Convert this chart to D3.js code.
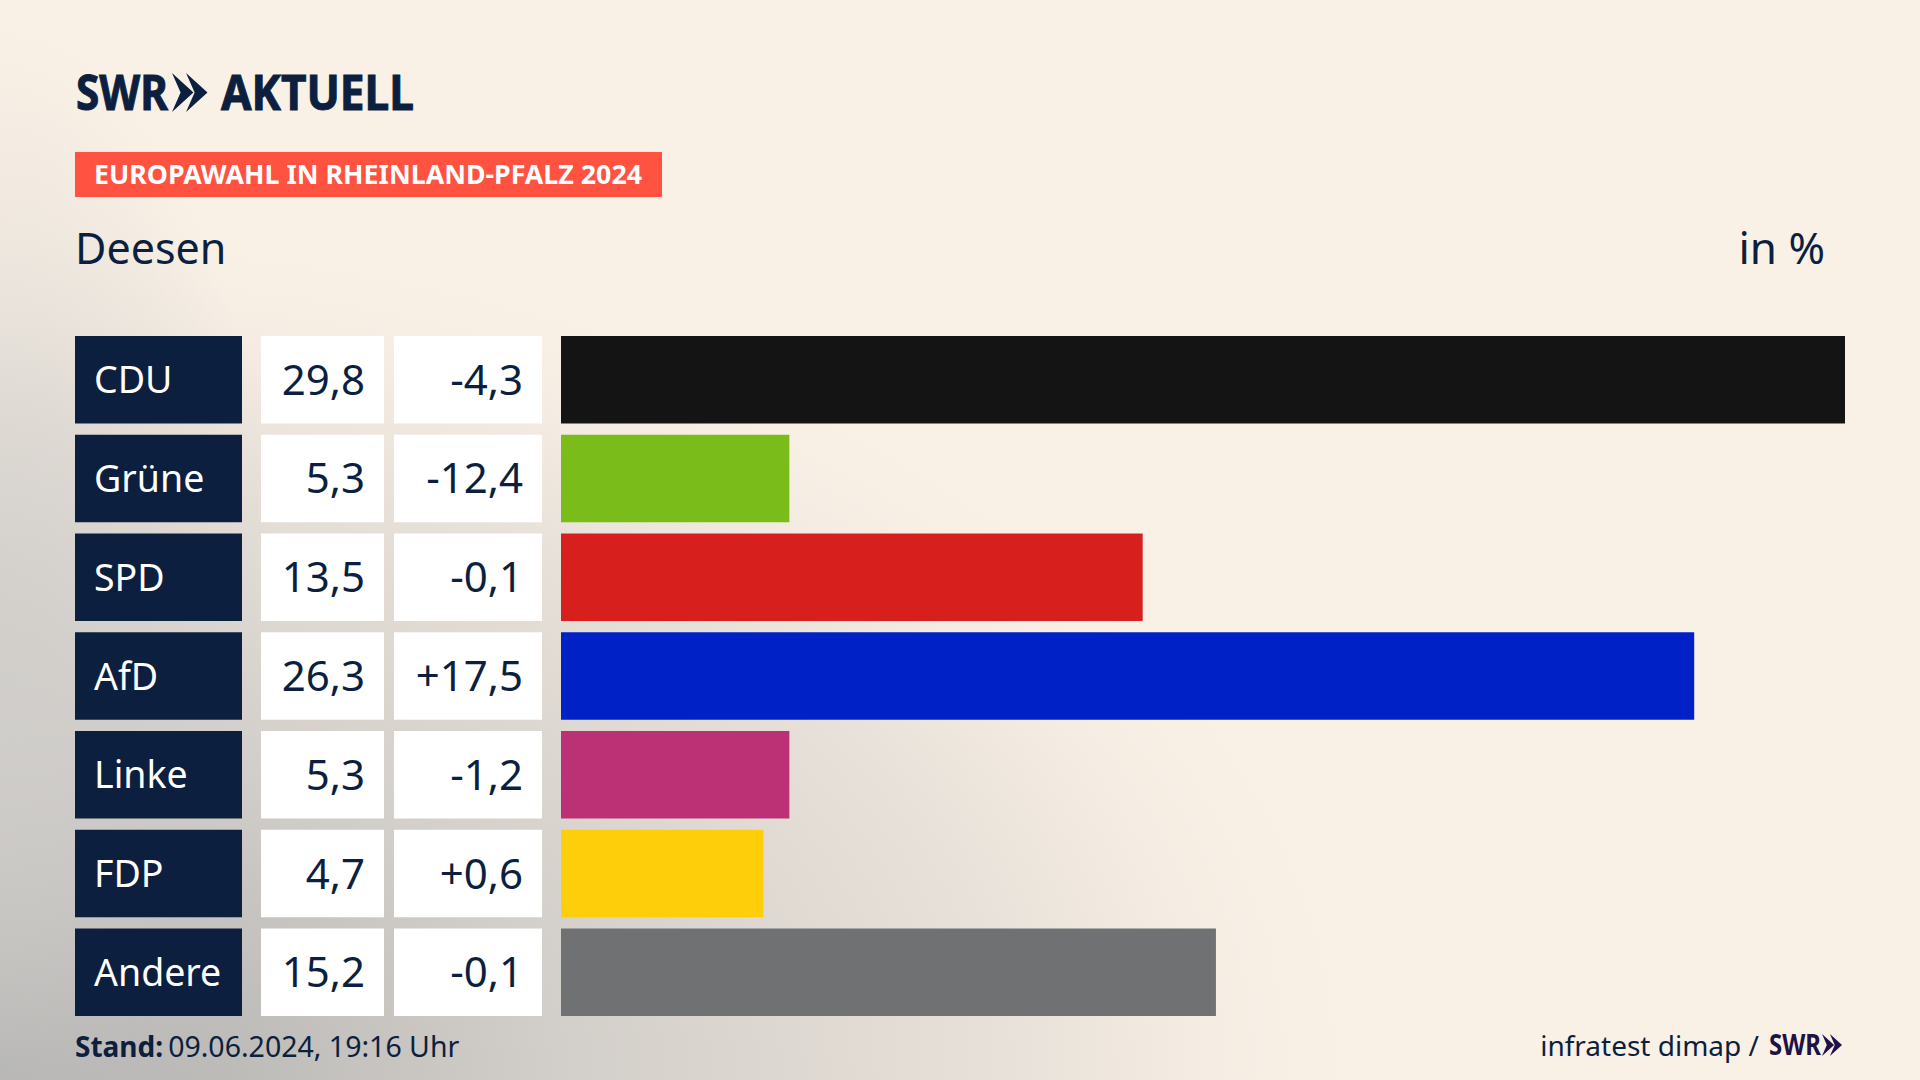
<!DOCTYPE html>
<html lang="de">
<head>
<meta charset="UTF-8">
<title>Europawahl Deesen</title>
<script src="https://cdn.jsdelivr.net/npm/d3@7"></script>
<style>
	html, body { margin: 0; padding: 0; background: #faf1e6; overflow: hidden; }
	svg { display: block; }
	text { font-family: "Noto Sans", sans-serif; fill: #0c1f3f; }
</style>
</head>
<body>
<script>
var parties = ["CDU", "Grüne", "SPD", "AfD", "Linke", "FDP", "Andere"];
var shares = [29.8, 5.3, 13.5, 26.3, 5.3, 4.7, 15.2];
var changes = [-4.3, -12.4, -0.1, 17.5, -1.2, 0.6, -0.1];
var colors = ["#141414", "#7abd1a", "#d7201e", "#0021c6", "#bc3075", "#ffce0a", "#707173"];

var navy = "#0c1f3f";

var svg = d3.select("body").append("svg")
	.attr("width", 1920)
	.attr("height", 1080);

// background: cream, grey haze out of the lower left corner plus a soft glow along the left edge
var defs = svg.append("defs");
var haze = defs.append("radialGradient")
	.attr("id", "haze")
	.attr("gradientUnits", "userSpaceOnUse")
	.attr("cx", 0).attr("cy", 0).attr("r", 850)
	.attr("gradientTransform", "translate(0,1080) scale(1.6,1)");
haze.append("stop").attr("offset", 0).attr("stop-color", "#ababaa");
haze.append("stop").attr("offset", 0.2).attr("stop-color", "#c0bebb");
haze.append("stop").attr("offset", 0.41).attr("stop-color", "#d2cec9");
haze.append("stop").attr("offset", 0.74).attr("stop-color", "#e8e1d9");
haze.append("stop").attr("offset", 0.89).attr("stop-color", "#f5ede3");
haze.append("stop").attr("offset", 1).attr("stop-color", "#faf1e6");

var edge = defs.append("radialGradient")
	.attr("id", "edge")
	.attr("gradientUnits", "userSpaceOnUse")
	.attr("cx", 0).attr("cy", 0).attr("r", 680)
	.attr("gradientTransform", "translate(0,700) scale(0.42,1)");
edge.append("stop").attr("offset", 0).attr("stop-color", "#cfcdca").attr("stop-opacity", 0.8);
edge.append("stop").attr("offset", 1).attr("stop-color", "#cfcdca").attr("stop-opacity", 0);

svg.append("rect").attr("width", 1920).attr("height", 1080).attr("fill", "url(#haze)");
svg.append("rect").attr("width", 1920).attr("height", 1080).attr("fill", "url(#edge)");

// scales
var x = d3.scaleLinear().domain([0, d3.max(shares)]).range([561, 1845]);
var y = d3.scaleBand().domain(parties).range([336, 1016]).paddingInner(0.114);

function comma(v) {
	return v.toFixed(1).replace(".", ",");
}
function signed(v) {
	return (v > 0 ? "+" : "") + comma(v);
}

// logo
function chevrons(g, x0, top, h) {
	var w = h * 0.55;
	[0, h * 0.36].forEach(function(dx) {
		g.append("path")
			.attr("d", d3.line()([
				[x0 + dx, top], [x0 + dx + w, top + h / 2], [x0 + dx, top + h],
				[x0 + dx + w * 0.4, top + h / 2]
			]) + "Z")
			.attr("fill", g.attr("data-fill"));
	});
}

var logo = svg.append("g").attr("data-fill", navy);
logo.append("text").attr("x", 76).attr("y", 110)
	.attr("font-size", 49).attr("font-weight", 700)
	.attr("textLength", 92).attr("lengthAdjust", "spacingAndGlyphs")
	.style("stroke", navy).style("stroke-width", 1)
	.text("SWR");
chevrons(logo, 172, 73, 39);
logo.append("text").attr("x", 221).attr("y", 110)
	.attr("font-size", 49).attr("font-weight", 700)
	.attr("textLength", 193).attr("lengthAdjust", "spacingAndGlyphs")
	.style("stroke", navy).style("stroke-width", 1)
	.text("AKTUELL");

// red chip with the title
svg.append("rect").attr("x", 75).attr("y", 152).attr("width", 587).attr("height", 45).attr("fill", "#ff5240");
svg.append("text").attr("x", 94).attr("y", 184)
	.attr("font-size", 27).attr("font-weight", 700)
	.attr("textLength", 548).attr("lengthAdjust", "spacingAndGlyphs")
	.style("fill", "#fff")
	.text("EUROPAWAHL IN RHEINLAND-PFALZ 2024");

svg.append("text").attr("x", 75).attr("y", 264).attr("font-size", 43).text("Deesen");
svg.append("text").attr("x", 1825).attr("y", 264).attr("font-size", 44)
	.attr("text-anchor", "end").text("in %");

// rows
var rows = svg.selectAll("g.row")
	.data(parties)
	.enter()
	.append("g")
	.attr("class", "row");

rows.append("rect")
	.attr("x", 75).attr("width", 167)
	.attr("y", function(d) { return y(d); })
	.attr("height", y.bandwidth())
	.attr("fill", navy);

rows.append("rect")
	.attr("x", 261).attr("width", 123)
	.attr("y", function(d) { return y(d); })
	.attr("height", y.bandwidth())
	.attr("fill", "#fff");

rows.append("rect")
	.attr("x", 394).attr("width", 148)
	.attr("y", function(d) { return y(d); })
	.attr("height", y.bandwidth())
	.attr("fill", "#fff");

rows.append("rect")
	.attr("x", x(0))
	.attr("y", function(d) { return y(d); })
	.attr("width", function(d, i) { return x(shares[i]) - x(0); })
	.attr("height", y.bandwidth())
	.attr("fill", function(d, i) { return colors[i]; });

function baseline(d, extra) {
	return y(d) + y.bandwidth() / 2 + extra;
}

rows.append("text")
	.attr("x", 94)
	.attr("y", function(d) { return baseline(d, 13.5); })
	.attr("font-size", 37.5)
	.style("fill", "#fff")
	.text(function(d) { return d; });

rows.append("text")
	.attr("x", 365)
	.attr("y", function(d) { return baseline(d, 15); })
	.attr("font-size", 42)
	.attr("text-anchor", "end")
	.text(function(d, i) { return comma(shares[i]); });

rows.append("text")
	.attr("x", 523)
	.attr("y", function(d) { return baseline(d, 15); })
	.attr("font-size", 42)
	.attr("text-anchor", "end")
	.text(function(d, i) { return signed(changes[i]); });

// footer
var stand = svg.append("text").attr("x", 75).attr("y", 1057).attr("font-size", 28);
stand.append("tspan").attr("font-weight", 700).text("Stand:");
stand.append("tspan").attr("dx", 5).attr("font-size", 28.5).text("09.06.2024, 19:16 Uhr");

svg.append("text").attr("x", 1759).attr("y", 1056).attr("font-size", 28)
	.attr("text-anchor", "end").text("infratest dimap /");

var source = svg.append("g").attr("data-fill", "#1f1244");
source.append("text").attr("x", 1769).attr("y", 1055)
	.attr("font-size", 28).attr("font-weight", 700)
	.attr("textLength", 52).attr("lengthAdjust", "spacingAndGlyphs")
	.style("fill", "#1f1244")
	.text("SWR");
chevrons(source, 1822, 1034, 22);
</script>
</body>
</html>
